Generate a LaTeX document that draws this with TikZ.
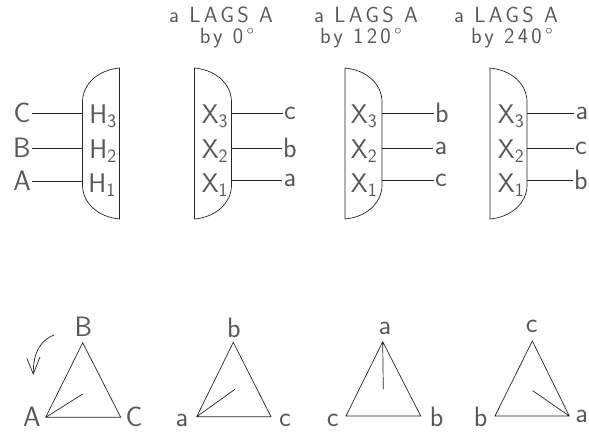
\documentclass[tikz,border=0pt]{standalone}
\usepackage{fontspec}
\setsansfont{Latin Modern Sans}
\newfontfamily\titlefont[LetterSpace=15]{Latin Modern Sans}
\usetikzlibrary{arrows.meta}

\begin{document}
\begin{tikzpicture}[x=1pt, y=-1pt]
\tikzstyle{title}=[inner sep=0pt, anchor=base, text=black!65, font=\titlefont\fontsize{22}{24}\selectfont]
\tikzstyle{lbl}=[inner sep=1pt, text=black!65, font=\sffamily\fontsize{28}{30}\selectfont]
\tikzstyle{coil}=[inner sep=0pt, text=black!65, font=\sffamily\fontsize{27}{29}\selectfont]
\tikzstyle{wire}=[black!85, line width=0.7pt]
\useasboundingbox (0,0) rectangle (589,432);

% 1. Titles
%%%%%%%%%%%
\node[title] (lag0) at (221,22) {a LAGS A};
\node[title] (by0) at (227,43) {by 0°};
\node[title] (lag120) at (366,22) {a LAGS A};
\node[title] (by120) at (361,43) {by 120°};
\node[title] (lag240) at (506,22) {a LAGS A};
\node[title] (by240) at (512,43) {by 240°};

% 2. Windings
%%%%%%%%%%%%%
\draw[wire] (119.5,68) .. controls (98,70) and (82.5,84) .. (82.5,102) -- (82.5,185) .. controls (82.5,203) and (98,217) .. (119.5,219) -- cycle;
\foreach \dx/\nm in {194.5/xa, 345/xb, 490/xc}
  \draw[wire] (\dx,68) .. controls (\dx+21.5,70) and (\dx+37,84) .. (\dx+37,102) -- (\dx+37,185) .. controls (\dx+37,203) and (\dx+21.5,217) .. (\dx,219) -- cycle;

\coordinate (H3) at (82.5,113);
\coordinate (H2) at (82.5,148);
\coordinate (H1) at (82.5,181);
\node[lbl] (C) at (22,113) {C};
\node[lbl] (B) at (22,148) {B};
\node[lbl] (A) at (22,181) {A};
\node[coil] (tH3) at (103,116) {H\textsubscript{3}};
\node[coil] (tH2) at (103,151) {H\textsubscript{2}};
\node[coil] (tH1) at (102,185) {H\textsubscript{1}};

\coordinate (Xa3) at (231.5,113);
\coordinate (Xa2) at (231.5,148);
\coordinate (Xa1) at (231.5,180);
\node[lbl] (ca) at (290,113) {c};
\node[lbl] (ba) at (290,148) {b};
\node[lbl] (aa) at (290,180) {a};
\node[coil] (tXa3) at (215,116) {X\textsubscript{3}};
\node[coil] (tXa2) at (215,151) {X\textsubscript{2}};
\node[coil] (tXa1) at (215,185) {X\textsubscript{1}};

\coordinate (Xb3) at (382,113);
\coordinate (Xb2) at (382,148);
\coordinate (Xb1) at (382,180);
\node[lbl] (bb) at (442,113) {b};
\node[lbl] (ab) at (441,148) {a};
\node[lbl] (cb) at (441,180) {c};
\node[coil] (tXb3) at (364,116) {X\textsubscript{3}};
\node[coil] (tXb2) at (364,151) {X\textsubscript{2}};
\node[coil] (tXb1) at (364,185) {X\textsubscript{1}};

\coordinate (Xc3) at (527,113);
\coordinate (Xc2) at (527,148);
\coordinate (Xc1) at (527,180);
\node[lbl] (ac) at (582,113) {a};
\node[lbl] (cc) at (581,148) {c};
\node[lbl] (bc) at (581,180) {b};
\node[coil] (tXc3) at (511,116) {X\textsubscript{3}};
\node[coil] (tXc2) at (511,151) {X\textsubscript{2}};
\node[coil] (tXc1) at (511,185) {X\textsubscript{1}};

\path[draw, wire] (C) -- (H3) (B) -- (H2) (A) -- (H1)
      (Xa3) -- (ca) (Xa2) -- (ba) (Xa1) -- (aa)
      (Xb3) -- (bb) (Xb2) -- (ab) (Xb1) -- (cb)
      (Xc3) -- (ac) (Xc2) -- (cc) (Xc1) -- (bc);

% 3. Phasors
%%%%%%%%%%%%
\coordinate (pA) at (45.7,417.3);
\coordinate (pB) at (82.7,342.7);
\coordinate (pC) at (120.7,417.3);
\coordinate (pH) at (82.7,394);
\node[lbl] at (83.5,327) (tB) {B};
\node[lbl] at (32,417) (tA) {A};
\node[lbl] at (134,417) (tC) {C};
\draw[wire] (pA) -- (pB) -- (pC) -- cycle (pA) -- (pH);
\coordinate (arcS) at (54,335);
\coordinate (arcE) at (33.3,374);
\coordinate (barbL) at (26.7,358);
\coordinate (barbR) at (40,357);
\draw[wire] (arcS) .. controls (41,340) and (33,352) .. (arcE);
\draw[wire] (barbL) -- (arcE) -- (barbR);

\coordinate (qa) at (196.7,416.7);
\coordinate (qb) at (233.3,342.3);
\coordinate (qc) at (271,416.7);
\coordinate (qH) at (235,389.3);
\node[lbl] at (234,328) (tqb) {b};
\node[lbl] at (182,420.5) (tqa) {a};
\node[lbl] at (285,420.5) (tqc) {c};
\draw[wire] (qa) -- (qb) -- (qc) -- cycle (qa) -- (qH);

\coordinate (rc) at (346,416);
\coordinate (ra) at (382.7,341.7);
\coordinate (rb) at (420.7,416);
\coordinate (rH) at (383.3,389.3);
\node[lbl] at (385,328) (tra) {a};
\node[lbl] at (332.7,420) (trc) {c};
\node[lbl] at (436.7,416.7) (trb) {b};
\draw[wire] (rc) -- (ra) -- (rb) -- cycle (ra) -- (rH);

\coordinate (sb) at (495,416);
\coordinate (sc) at (532.3,341);
\coordinate (sa) at (569.3,416);
\coordinate (sH) at (532.7,390.7);
\node[lbl] at (531.7,326) (tsc) {c};
\node[lbl] at (480.7,417) (tsb) {b};
\node[lbl] at (581.7,416.7) (tsa) {a};
\draw[wire] (sb) -- (sc) -- (sa) -- cycle (sa) -- (sH);

\end{tikzpicture}
\end{document}
